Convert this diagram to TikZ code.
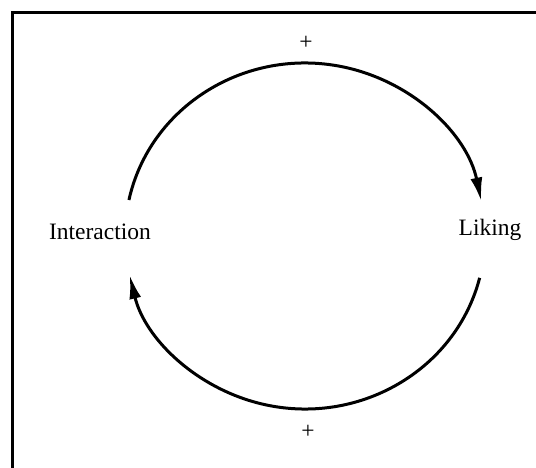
\documentclass[tikz,border=0pt]{standalone}
\usepackage{fontspec}
\setmainfont{Liberation Serif}
\usetikzlibrary{arrows.meta,calc}
\begin{document}
\begin{tikzpicture}[x=1pt,y=1pt,
  lbl/.style={inner sep=0pt,font=\fontsize{23.5}{28}\selectfont},
  loop/.style={line width=3pt,-{Latex[length=24pt,width=12pt]}},
  frame/.style={line width=2.4pt}]
\useasboundingbox (0,0) rectangle (536,468);
% frame (top and left only)
\coordinate (fa) at (12.5,-2);
\coordinate (fb) at (12.5,455.5);
\coordinate (fc) at (538,455.5);
\draw[frame] (fa) -- (fb) -- (fc);
% labels
\node[lbl] (inter) at (100,236) {Interaction};
\node[lbl] (liking) at (490,238) {Liking};
\node[lbl] (ptop) at (306,425) {+};
\node[lbl] (pbot) at (308,36) {+};
% loop centre
\coordinate (c) at (305,232);
\coordinate (u1) at ($(c)+(168:180 and 173)$);
\draw[loop] (u1) arc[start angle=168,end angle=11.5,x radius=180,y radius=173];
\coordinate (l1) at ($(c)+(-14:180 and 173)$);
\draw[loop] (l1) arc[start angle=-14,end angle=-167,x radius=180,y radius=173];
\end{tikzpicture}
\end{document}
